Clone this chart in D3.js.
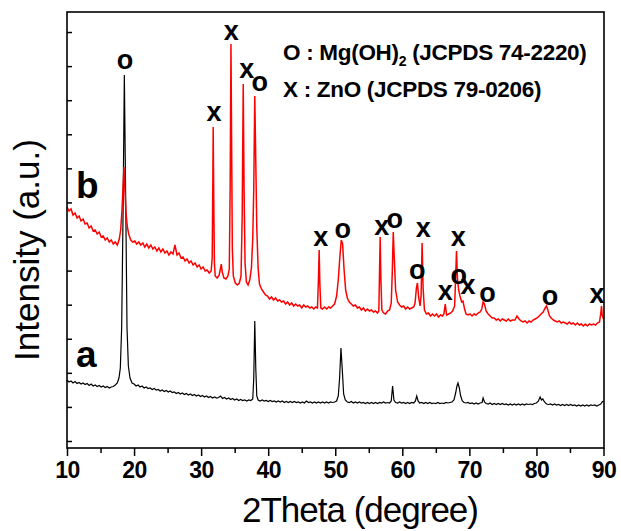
<!DOCTYPE html>
<html lang="en">
<head>
  <meta charset="UTF-8">
  <title>XRD</title>
  <style>
    body { margin: 0; background: #fff; }
    .warp { width: 621px; height: 531px; }
    text { font-family: "Liberation Sans", Arial, sans-serif; fill: #000; }
  </style>
</head>
<body>
  <div class="warp"></div>
  <script src="https://cdn.jsdelivr.net/npm/d3@7"></script>
  <script>
    // 2theta (deg), intensity (a.u.)  -- trace b (red)
    var traceB = [
      [10.0,2410],[10.3,2370],[10.6,2390],[10.9,2330],[11.2,2350],[11.5,2300],[11.8,2320],[12.1,2270],[12.4,2290],[12.7,2240],
      [13.0,2250],[13.3,2200],[13.6,2220],[13.9,2170],[14.2,2180],[14.5,2140],[14.8,2160],[15.1,2110],[15.4,2120],[15.7,2080],
      [16.0,2100],[16.3,2060],[16.6,2080],[16.9,2040],[17.2,2060],[17.5,2030],[17.8,2090],[18.0,2180],[18.2,2380],[18.35,2600],
      [18.5,2810],[18.65,2560],[18.8,2350],[19.0,2210],[19.2,2140],[19.5,2080],[19.8,2060],[20.1,2070],[20.4,2040],[20.7,2060],
      [21.0,2030],[21.3,2050],[21.6,2010],[21.9,2040],[22.2,2000],[22.5,2030],[22.8,1990],[23.1,2010],[23.4,1970],[23.7,2000],
      [24.0,1960],[24.3,1990],[24.6,1950],[24.9,1970],[25.2,1930],[25.5,1960],[25.8,1940],[26.1,2030],[26.4,1930],[26.7,1950],
      [27.0,1900],[27.3,1910],[27.6,1870],[27.9,1890],[28.2,1850],[28.5,1870],[28.8,1830],[29.1,1850],[29.4,1810],[29.7,1830],
      [30.0,1790],[30.3,1810],[30.6,1770],[30.9,1780],[31.2,1750],[31.5,1770],[31.65,1900],[31.75,2700],[31.8,3210],[31.88,2500],
      [31.98,1850],[32.1,1720],[32.4,1700],[32.7,1730],[32.9,1800],[33.0,1840],[33.15,1760],[33.4,1700],[33.7,1690],[34.0,1720],
      [34.2,1790],[34.33,2600],[34.45,4040],[34.55,3000],[34.65,2000],[34.8,1720],[35.1,1650],[35.4,1630],[35.7,1650],[35.95,1720],
      [36.12,2300],[36.28,3640],[36.4,2600],[36.55,1850],[36.75,1660],[37.0,1630],[37.25,1680],[37.5,1800],[37.7,2100],[37.85,2600],
      [38.0,3520],[38.12,3000],[38.3,2200],[38.5,1800],[38.7,1640],[39.0,1590],[39.3,1560],[39.6,1530],[39.9,1520],[40.2,1490],
      [40.5,1510],[40.8,1480],[41.1,1500],[41.4,1470],[41.7,1480],[42.0,1460],[42.3,1470],[42.6,1440],[42.9,1460],[43.2,1430],
      [43.5,1450],[43.8,1420],[44.1,1440],[44.4,1420],[44.7,1430],[45.0,1400],[45.3,1430],[45.6,1410],[45.9,1420],[46.2,1400],
      [46.5,1410],[46.8,1390],[47.1,1410],[47.35,1400],[47.5,1700],[47.6,1980],[47.7,1650],[47.85,1400],[48.1,1390],[48.4,1410],
      [48.7,1390],[49.0,1410],[49.3,1400],[49.6,1420],[49.9,1440],[50.2,1520],[50.45,1680],[50.7,1920],[50.9,2080],[51.1,2040],
      [51.3,1800],[51.55,1580],[51.8,1500],[52.1,1460],[52.4,1440],[52.7,1420],[53.0,1430],[53.3,1400],[53.6,1410],[53.9,1380],
      [54.2,1400],[54.5,1370],[54.8,1390],[55.1,1370],[55.4,1380],[55.7,1360],[56.0,1370],[56.3,1350],[56.5,1370],[56.6,1750],
      [56.7,2110],[56.8,1700],[56.95,1380],[57.2,1350],[57.5,1340],[57.8,1370],[58.1,1380],[58.35,1450],[58.5,1750],[58.65,2160],
      [58.8,1900],[59.0,1580],[59.3,1460],[59.6,1430],[59.9,1410],[60.2,1420],[60.5,1390],[60.8,1410],[61.1,1390],[61.4,1400],
      [61.7,1410],[61.9,1450],[62.1,1600],[62.25,1650],[62.45,1500],[62.65,1420],[62.8,1520],[62.95,2050],[63.1,1600],[63.3,1380],
      [63.6,1340],[63.9,1350],[64.2,1320],[64.5,1340],[64.8,1320],[65.1,1340],[65.4,1310],[65.7,1330],[66.0,1320],[66.2,1340],
      [66.4,1440],[66.6,1330],[66.9,1340],[67.2,1350],[67.5,1370],[67.8,1420],[67.95,1700],[68.08,1970],[68.22,1700],[68.4,1580],
      [68.6,1520],[68.85,1460],[69.05,1470],[69.25,1400],[69.5,1340],[69.8,1330],[70.1,1340],[70.4,1320],[70.7,1340],[71.0,1330],
      [71.3,1350],[71.6,1360],[71.85,1390],[72.05,1460],[72.25,1440],[72.5,1370],[72.8,1340],[73.1,1320],[73.4,1300],[73.7,1300],
      [74.0,1280],[74.3,1290],[74.6,1270],[74.9,1290],[75.2,1280],[75.5,1270],[75.8,1290],[76.1,1270],[76.4,1280],[76.8,1280],
      [77.1,1320],[77.4,1290],[77.7,1270],[78.0,1260],[78.3,1270],[78.6,1250],[78.9,1270],[79.2,1260],[79.5,1280],[79.8,1290],
      [80.1,1300],[80.4,1320],[80.7,1340],[81.0,1360],[81.3,1400],[81.5,1420],[81.7,1380],[81.95,1320],[82.2,1300],[82.5,1280],
      [82.8,1270],[83.1,1260],[83.4,1270],[83.7,1250],[84.0,1260],[84.3,1250],[84.6,1240],[84.9,1260],[85.2,1240],[85.5,1250],
      [85.8,1230],[86.1,1250],[86.4,1230],[86.7,1240],[87.0,1220],[87.3,1240],[87.6,1220],[87.9,1240],[88.2,1230],[88.5,1240],
      [88.8,1230],[89.1,1250],[89.4,1260],[89.6,1350],[89.7,1420],[89.8,1330],[90.0,1290]
    ];

    // trace a (black)
    var traceA = [
      [10.0,680],[10.3,660],[10.6,670],[10.9,650],[11.2,665],[11.5,645],[11.8,655],[12.1,640],[12.4,650],[12.7,635],
      [13.0,645],[13.3,625],[13.6,640],[13.9,620],[14.2,630],[14.5,615],[14.8,625],[15.1,610],[15.4,620],[15.7,605],
      [16.0,615],[16.3,600],[16.6,610],[16.9,615],[17.2,630],[17.5,650],[17.75,700],[17.95,800],[18.15,1200],[18.35,2300],
      [18.55,3730],[18.75,2500],[18.95,1200],[19.15,820],[19.4,700],[19.7,650],[20.0,640],[20.3,620],[20.6,630],[20.9,610],
      [21.2,620],[21.5,600],[21.8,610],[22.1,595],[22.4,600],[22.7,585],[23.0,595],[23.3,580],[23.6,585],[23.9,570],
      [24.2,580],[24.5,565],[24.8,575],[25.1,560],[25.4,570],[25.7,555],[26.0,560],[26.3,545],[26.6,555],[26.9,540],
      [27.2,550],[27.5,535],[27.8,545],[28.1,530],[28.4,540],[28.7,525],[29.0,535],[29.3,520],[29.6,530],[29.9,515],
      [30.2,525],[30.5,510],[30.8,520],[31.1,505],[31.4,515],[31.7,500],[32.0,510],[32.3,500],[32.6,505],[32.9,520],
      [33.2,495],[33.5,505],[33.8,490],[34.1,500],[34.4,485],[34.7,495],[35.0,480],[35.3,490],[35.6,475],[35.9,485],
      [36.2,475],[36.5,480],[36.8,470],[37.1,480],[37.4,475],[37.7,490],[37.85,700],[38.0,1270],[38.15,800],[38.3,520],
      [38.5,480],[38.8,470],[39.1,480],[39.4,470],[39.7,475],[40.0,465],[40.3,475],[40.6,465],[40.9,470],[41.2,460],
      [41.5,470],[41.8,460],[42.1,470],[42.4,455],[42.7,465],[43.0,455],[43.3,465],[43.6,455],[43.9,465],[44.2,455],
      [44.5,460],[44.8,450],[45.1,460],[45.4,450],[45.7,470],[46.0,455],[46.3,460],[46.6,450],[46.9,460],[47.2,450],
      [47.5,460],[47.8,450],[48.1,460],[48.4,450],[48.7,460],[49.0,450],[49.3,460],[49.6,455],[49.9,460],[50.2,470],
      [50.45,520],[50.65,700],[50.85,1000],[51.05,780],[51.25,540],[51.5,480],[51.8,460],[52.1,455],[52.4,465],[52.7,450],
      [53.0,460],[53.3,450],[53.6,460],[53.9,450],[54.2,455],[54.5,445],[54.8,455],[55.1,445],[55.4,455],[55.7,445],
      [56.0,455],[56.3,445],[56.6,455],[56.9,450],[57.2,460],[57.5,450],[57.8,455],[58.1,450],[58.35,470],[58.55,620],
      [58.75,480],[59.0,455],[59.3,450],[59.6,460],[59.9,450],[60.2,455],[60.5,445],[60.8,455],[61.1,445],[61.4,455],
      [61.7,450],[61.95,470],[62.15,520],[62.35,470],[62.6,450],[62.9,455],[63.2,445],[63.5,455],[63.8,445],[64.1,455],
      [64.4,445],[64.7,450],[65.0,445],[65.3,455],[65.6,445],[65.9,450],[66.2,445],[66.5,455],[66.8,450],[67.1,455],
      [67.4,460],[67.7,480],[67.95,550],[68.15,620],[68.3,650],[68.5,600],[68.7,520],[68.95,470],[69.2,455],[69.5,450],
      [69.8,455],[70.1,445],[70.4,450],[70.7,440],[71.0,450],[71.3,440],[71.6,450],[71.9,455],[72.05,500],[72.25,460],
      [72.5,445],[72.8,440],[73.1,450],[73.4,435],[73.7,445],[74.0,435],[74.3,445],[74.6,435],[74.9,445],[75.2,435],
      [75.5,440],[75.8,430],[76.1,440],[76.4,430],[76.7,440],[77.0,430],[77.3,440],[77.6,430],[77.9,440],[78.2,430],
      [78.5,440],[78.8,435],[79.1,440],[79.4,435],[79.7,445],[80.0,450],[80.3,470],[80.55,510],[80.75,480],[80.95,490],
      [81.2,460],[81.5,440],[81.8,435],[82.1,440],[82.4,430],[82.7,440],[83.0,430],[83.3,435],[83.6,425],[83.9,435],
      [84.2,425],[84.5,435],[84.8,425],[85.1,435],[85.4,425],[85.7,430],[86.0,420],[86.3,430],[86.6,420],[86.9,430],
      [87.2,420],[87.5,430],[87.8,420],[88.1,430],[88.4,425],[88.7,430],[89.0,420],[89.3,430],[89.6,440],[89.8,460],
      [90.0,470]
    ];

    // peak markers: symbol, 2theta, intensity where the mark sits
    var peakMarks = [
      ['o', 18.66, 3860], ['x', 31.94, 3340], ['x', 34.48, 4150], ['x', 36.79, 3770], ['o', 38.73, 3640],
      ['x', 47.84, 2090], ['o', 51.1, 2170], ['x', 56.94, 2200], ['o', 58.88, 2270], ['x', 63.13, 2180],
      ['x', 68.36, 2090], ['o', 62.24, 1760], ['x', 66.42, 1550], ['o', 68.43, 1710], ['x', 69.78, 1610],
      ['o', 72.69, 1530], ['o', 82.01, 1500], ['x', 89.03, 1520]
    ];

    var xTicks = d3.range(10, 91, 10);
    var xMinor = d3.range(15, 90, 10);
    var yTicks = d3.range(70, 4200, 340.8);

    var W = 621, H = 531;
    var m = {left: 67, right: 17, top: 12, bottom: 83};

    var svg = d3.select('.warp').append('svg')
      .attr('width', W)
      .attr('height', H);

    var x = d3.scaleLinear().domain([10, 90]).range([m.left, W - m.right - 0.5]);
    var y = d3.scaleLinear().domain([0, 4360]).range([H - m.bottom, m.top]);

    var line = d3.line()
      .x(function(d){ return x(d[0]); })
      .y(function(d){ return y(d[1]); });

    svg.append('path')
      .datum(traceA)
      .attr('d', line)
      .attr('fill', 'none')
      .attr('stroke', '#000')
      .attr('stroke-width', 1.2);

    svg.append('path')
      .datum(traceB)
      .attr('d', line)
      .attr('fill', 'none')
      .attr('stroke', '#ff0000')
      .attr('stroke-width', 1.5);

    // frame
    svg.append('rect')
      .attr('x', m.left)
      .attr('y', m.top)
      .attr('width', W - m.left - m.right)
      .attr('height', H - m.top - m.bottom)
      .attr('fill', 'none')
      .attr('stroke', '#000')
      .attr('stroke-width', 1.6);

    // bottom axis
    var xAxis = d3.axisBottom(x).tickValues(xTicks).tickSize(8).tickFormat(d3.format('d'));
    var gx = svg.append('g')
      .attr('transform', 'translate(0,' + (H - m.bottom) + ')')
      .call(xAxis);
    gx.select('.domain').remove();
    gx.selectAll('line').attr('stroke-width', 1.5);
    gx.selectAll('text')
      .attr('y', 14)
      .attr('dy', '0.71em')
      .style('font-family', '"Liberation Sans", Arial, sans-serif')
      .style('font-weight', 'bold')
      .style('font-size', '23px')
      .style('letter-spacing', '-0.5px');

    var gxm = svg.append('g')
      .attr('transform', 'translate(0,' + (H - m.bottom) + ')')
      .call(d3.axisBottom(x).tickValues(xMinor).tickSize(5).tickFormat(''));
    gxm.select('.domain').remove();
    gxm.selectAll('line').attr('stroke-width', 1.5);

    // left axis, inner ticks only
    var gy = svg.append('g')
      .attr('transform', 'translate(' + m.left + ',0)')
      .call(d3.axisRight(y).tickValues(yTicks).tickSize(5).tickFormat(''));
    gy.select('.domain').remove();
    gy.selectAll('line').attr('stroke-width', 1.5);

    // titles
    svg.append('text')
      .attr('x', 360)
      .attr('y', 522)
      .attr('text-anchor', 'middle')
      .style('font-size', '35px')
      .style('letter-spacing', '-1px')
      .text('2Theta (degree)');

    svg.append('text')
      .attr('transform', 'translate(39,250) rotate(-90)')
      .attr('text-anchor', 'middle')
      .style('font-size', '35px')
      .text('Intensity (a.u.)');

    // sample labels
    svg.append('text').attr('x', 76).attr('y', 198)
      .style('font-size', '37px').style('font-weight', 'bold').text('b');
    svg.append('text').attr('x', 76).attr('y', 367)
      .style('font-size', '37px').style('font-weight', 'bold').text('a');

    // peak symbols
    svg.selectAll('text.mark')
      .data(peakMarks)
      .enter()
      .append('text')
      .attr('class', 'mark')
      .attr('x', function(d){ return x(d[1]); })
      .attr('y', function(d){ return y(d[2]) + 7; })
      .attr('text-anchor', 'middle')
      .style('font-size', '27px')
      .style('font-weight', 'bold')
      .text(function(d){ return d[0]; });

    // legend
    var lg1 = svg.append('text').attr('x', 283).attr('y', 60)
      .style('font-size', '22.5px').style('font-weight', 'bold').style('letter-spacing', '-0.3px');
    lg1.append('tspan').text('O : Mg(OH)');
    lg1.append('tspan').attr('dy', 6).style('font-size', '14px').text('2');
    lg1.append('tspan').attr('dy', -6).text(' (JCPDS 74-2220)');

    svg.append('text').attr('x', 283).attr('y', 97)
      .style('font-size', '22.5px').style('font-weight', 'bold').style('letter-spacing', '-0.3px')
      .text('X : ZnO (JCPDS 79-0206)');
  </script>
</body>
</html>
